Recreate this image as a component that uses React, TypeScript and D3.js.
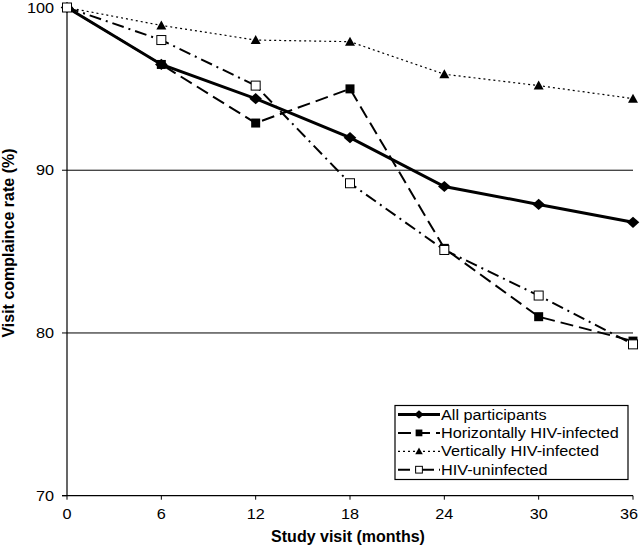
import React from "react";
import * as d3 from "d3";

const months = [0, 6, 12, 18, 24, 30, 36];
const allParticipants = [100, 96.5, 94.4, 92.0, 89.0, 87.9, 86.8];
const horizontal = [100, 96.5, 92.9, 95.0, 85.2, 81.0, 79.5];
const vertical = [100, 98.9, 98.0, 97.9, 95.9, 95.2, 94.4];
const uninfected = [100, 98.0, 95.2, 89.2, 85.1, 82.3, 79.3];
const yTicks = [70, 80, 90, 100];
const gridValues = [80, 90];
const seriesNames = [
  "All participants",
  "Horizontally HIV-infected",
  "Vertically HIV-infected",
  "HIV-uninfected",
];

const W = 640;
const H = 549;
const FONT = "'Liberation Sans', Arial, Helvetica, sans-serif";
const SX = 1.16;

type Series = {
  name: string;
  values: number[];
  width: number;
  dash: string;
  marker: "diamond" | "filledSquare" | "triangle" | "hollowSquare";
};

const series: Series[] = [
  { name: seriesNames[0], values: allParticipants, width: 3, dash: "none", marker: "diamond" },
  { name: seriesNames[1], values: horizontal, width: 2, dash: "13,6", marker: "filledSquare" },
  { name: seriesNames[2], values: vertical, width: 1.2, dash: "2,3", marker: "triangle" },
  { name: seriesNames[3], values: uninfected, width: 2, dash: "12,5,2,5", marker: "hollowSquare" },
];

function Marker({ type, cx, cy, s = 1 }: { type: string; cx: number; cy: number; s?: number }) {
  if (type === "diamond") {
    const rx = 6.3 * s;
    const ry = 5.6 * s;
    return <path d={`M${cx},${cy - ry}L${cx + rx},${cy}L${cx},${cy + ry}L${cx - rx},${cy}Z`} fill="#000" />;
  }
  if (type === "filledSquare") {
    const h = 4.5 * s;
    return <rect x={cx - h} y={cy - h} width={2 * h} height={2 * h} fill="#000" />;
  }
  if (type === "hollowSquare") {
    const h = 4.5 * s;
    return <rect x={cx - h} y={cy - h} width={2 * h} height={2 * h} fill="#fff" stroke="#000" strokeWidth={1} />;
  }
  const r = 5 * s;
  return <path d={`M${cx},${cy - r}L${cx + r},${cy + r * 0.8}L${cx - r},${cy + r * 0.8}Z`} fill="#000" />;
}

function SText({
  x,
  y,
  anchor = "start",
  size = 14,
  dy = "0",
  children,
}: {
  x: number;
  y: number;
  anchor?: string;
  size?: number;
  dy?: string;
  children: React.ReactNode;
}) {
  return (
    <text
      transform={`translate(${x},${y}) scale(${SX},1)`}
      textAnchor={anchor}
      fontSize={size}
      dy={dy}
    >
      {children}
    </text>
  );
}

export default function App() {
  const x = d3.scaleLinear().domain([0, 36]).range([67, 633]);
  const y = d3.scaleLinear().domain([70, 100]).range([495.7, 7.5]);
  const line = d3
    .line<number>()
    .x((_, i) => x(months[i]))
    .y((v) => y(v));

  const legX = 395;
  const legY = 405.5;
  const legW = 233;
  const legH = 74;
  const rowH = 18.4;

  return (
    <svg
      width={W}
      height={H}
      style={{ position: "absolute", left: 0, top: 0, background: "#fff" }}
      fontFamily={FONT}
    >
      <rect width={W} height={H} fill="#fff" />
      {/* gridlines */}
      {gridValues.map((g) => (
        <line key={g} x1={x(0)} x2={x(36)} y1={y(g)} y2={y(g)} stroke="#000" strokeWidth={1} />
      ))}
      {/* axes */}
      <line x1={x(0)} x2={x(0)} y1={y(100)} y2={y(70)} stroke="#000" strokeWidth={1.2} />
      <line x1={x(0) - 5} x2={x(36)} y1={y(70)} y2={y(70)} stroke="#000" strokeWidth={1.2} />
      {yTicks.map((t) => (
        <g key={t}>
          <line x1={x(0) - 5} x2={x(0)} y1={y(t)} y2={y(t)} stroke="#000" strokeWidth={1} />
          <SText x={x(0) - 13} y={y(t)} dy="0.36em" anchor="end">
            {t}
          </SText>
        </g>
      ))}
      {months.map((m) => (
        <g key={m}>
          <line x1={x(m)} x2={x(m)} y1={y(70)} y2={y(70) + 4} stroke="#000" strokeWidth={1} />
          <SText x={Math.min(x(m), 629)} y={518.5} anchor="middle">
            {m}
          </SText>
        </g>
      ))}
      <text x={348} y={541.5} textAnchor="middle" fontSize={16} fontWeight="bold">
        Study visit (months)
      </text>
      <text
        transform={`translate(13.5,243) rotate(-90)`}
        textAnchor="middle"
        fontSize={16}
        fontWeight="bold"
      >
        Visit complaince rate (%)
      </text>

      {/* series */}
      {series.map((s) => (
        <path
          key={s.name}
          d={line(s.values) || ""}
          fill="none"
          stroke="#000"
          strokeWidth={s.width}
          strokeDasharray={s.dash}
        />
      ))}
      {series.map((s) =>
        s.values.map((v, i) => (
          <Marker key={s.name + i} type={s.marker} cx={x(months[i])} cy={y(v)} />
        ))
      )}

      {/* legend */}
      <rect x={legX} y={legY} width={legW} height={legH} fill="#fff" stroke="#000" strokeWidth={1.2} />
      {series.map((s, i) => {
        const cy = legY + 9 + i * rowH;
        return (
          <g key={s.name}>
            <line
              x1={legX + 3}
              x2={legX + 45}
              y1={cy}
              y2={cy}
              stroke="#000"
              strokeWidth={s.width}
              strokeDasharray={s.dash === "none" ? "none" : s.dash}
            />
            <Marker type={s.marker} cx={legX + 24} cy={cy} s={0.75} />
            <SText x={legX + 46} y={cy} dy="0.36em">
              {s.name}
            </SText>
          </g>
        );
      })}
    </svg>
  );
}
